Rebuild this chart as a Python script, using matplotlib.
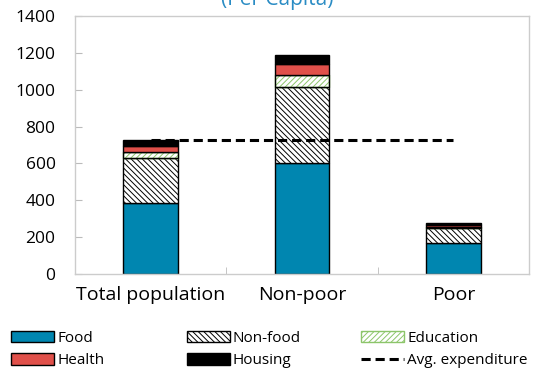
import numpy as np
import matplotlib.pyplot as plt

plt.rcParams['font.family'] = ['Open Sans', 'DejaVu Sans']
plt.rcParams['hatch.linewidth'] = 0.7

groups = ["Total population", "Non-poor", "Poor"]
food = [385, 605, 168]
non_food = [244, 410, 82]
education = [33, 65, 5]
health = [33, 59, 13]
housing = [32, 51, 9]
avg_expenditure = 727

fig = plt.figure(figsize=(5.51, 3.70), dpi=100)
ax = fig.add_axes([75 / 551, 96 / 370, 454 / 551, 258 / 370])

x = np.arange(len(groups))
w = 0.36
layers = [
    ("Food", food, dict(color="#0086B0", edgecolor="black")),
    ("Non-food", non_food, dict(color="white", edgecolor="black", hatch="\\\\\\\\\\\\")),
    ("Education", education, dict(color="white", edgecolor="#8CC56A", hatch="//////")),
    ("Health", health, dict(color="#E0504A", edgecolor="black")),
    ("Housing", housing, dict(color="black", edgecolor="black")),
]
bottom = np.zeros(len(groups))
handles = []
for name, vals, style in layers:
    b = ax.bar(x, vals, w, bottom=bottom, linewidth=1.0, label=name, zorder=2, **style)
    if name == "Education":
        # outline the hatched segment in black
        ax.bar(x, vals, w, bottom=bottom, fill=False, edgecolor="black", linewidth=1.0, zorder=2)
    handles.append(b)
    bottom += np.array(vals)

line, = ax.plot([x[0], x[-1]], [avg_expenditure] * 2, "--", color="black",
                linewidth=2.2, dashes=(3, 1.6), zorder=3, label="Avg. expenditure")
handles.append(line)

ax.set_xlim(-0.5, 2.5)
ax.set_ylim(0, 1400)
ax.set_yticks(np.arange(0, 1401, 200))
ax.set_xticks(x)
ax.set_xticklabels(groups, fontsize=14)
ax.set_xticks([0.5, 1.5], minor=True)
ax.tick_params(axis="x", which="major", length=0, pad=9)
ax.tick_params(axis="x", which="minor", direction="in", length=5, color="#BBBBBB")
ax.tick_params(axis="y", direction="in", length=5, color="#BBBBBB", labelsize=12.5, pad=14)
for s in ax.spines.values():
    s.set_color("#CCCCCC")
    s.set_linewidth(1.0)

fig.text(0.503, 1.0, "(Per Capita)", ha="center", va="center", fontsize=15, color="#2A8CC4")

# legend laid out as three columns, two entries each, filled row by row
col_x = [0.004, 0.323, 0.639]
for i, cx in enumerate(col_x):
    hs = [handles[i], handles[i + 3]]
    fig.legend(hs, [h.get_label() for h in hs], loc="lower left",
               bbox_to_anchor=(cx, -0.02), frameon=False, fontsize=11,
               handlelength=2.8, handleheight=0.75, handletextpad=0.2,
               labelspacing=0.5, borderpad=0.3, borderaxespad=0.3)

fig.savefig("out.png", dpi=100)
